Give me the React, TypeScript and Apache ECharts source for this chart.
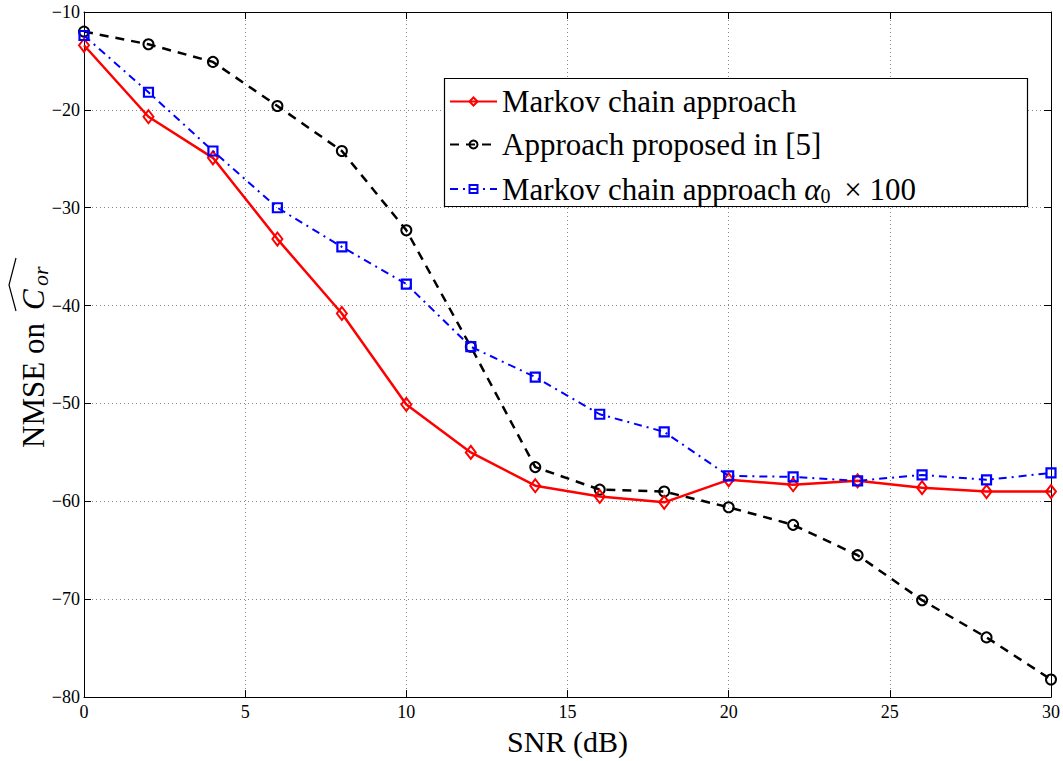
import React, { useEffect, useRef } from 'react';
import * as echarts from 'echarts';

const snr = [0, 2, 4, 6, 8, 10, 12, 14, 16, 18, 20, 22, 24, 26, 28, 30];
const markov = [-13.4, -20.7, -24.9, -33.2, -40.8, -50.1, -55.0, -58.4, -59.5, -60.1, -57.8, -58.3, -57.9, -58.6, -59.0, -59.0];
const proposed = [-12.0, -13.3, -15.1, -19.6, -24.2, -32.3, -44.2, -56.5, -58.8, -59.0, -60.6, -62.4, -65.5, -70.1, -73.9, -78.2];
const markovAlpha = [-12.4, -18.2, -24.2, -30.0, -34.0, -37.8, -44.2, -47.3, -51.1, -52.9, -57.4, -57.5, -57.9, -57.3, -57.8, -57.1];
const seriesNames = ['Markov chain approach', 'Approach proposed in [5]', 'Markov chain approach alpha0 x 100'];
const xAxisTitle = 'SNR (dB)';
const yTitleMain = 'NMSE on ';
const yTitleSym = 'C';
const yTitleSub = 'or';

const FONT = "'Liberation Serif', 'Times New Roman', serif";

export default function App() {
  const ref = useRef<HTMLDivElement>(null);
  useEffect(() => {
    if (!ref.current) return;
    const chart = echarts.init(ref.current, undefined, { renderer: 'svg' });
    const fmt = (v: number) => String(v).replace('-', '\u2212');
    const pairs = (arr: number[]) => arr.map((v, i) => [snr[i], v]);
    const hollow = 'rgba(255,255,255,0)';
    const baseX = {
      type: 'value', min: 0, max: 30, interval: 5,
      axisLine: { show: true, onZero: false, lineStyle: { color: '#000', width: 1 } },
      axisTick: { show: true, inside: true, length: 7, lineStyle: { color: '#000' } },
    };
    const baseY = {
      type: 'value', min: -80, max: -10, interval: 10,
      axisLine: { show: true, onZero: false, lineStyle: { color: '#000', width: 1 } },
      axisTick: { show: true, inside: true, length: 7, lineStyle: { color: '#000' } },
    };
    chart.setOption({
      animation: false,
      backgroundColor: '#fff',
      grid: { left: 84, right: 6, top: 12, bottom: 55, containLabel: false },
      xAxis: [
        {
          ...baseX, position: 'bottom',
          axisLabel: { formatter: fmt, fontFamily: FONT, fontSize: 18, color: '#000', margin: 6 },
          splitLine: { show: true, lineStyle: { color: '#888', type: [1, 3], width: 1 } },
          name: xAxisTitle, nameLocation: 'middle', nameGap: 28,
          nameTextStyle: { fontFamily: FONT, fontSize: 30, color: '#000' },
        },
        { ...baseX, position: 'top', axisLabel: { show: false }, splitLine: { show: false } },
      ],
      yAxis: [
        {
          ...baseY, position: 'left',
          axisLabel: { formatter: fmt, fontFamily: FONT, fontSize: 18, color: '#000', margin: 4 },
          splitLine: { show: true, lineStyle: { color: '#888', type: [1, 3], width: 1 } },
        },
        { ...baseY, position: 'right', axisLabel: { show: false }, splitLine: { show: false } },
      ],
      legend: {
        orient: 'vertical', left: 444, top: 78, z: 10,
        padding: [8, 8, 7, 5], itemGap: 12, itemWidth: 47, itemHeight: 10,
        data: seriesNames,
        formatter: (name: string) => name === seriesNames[2]
          ? 'Markov chain approach {i|\u03b1}{sub|0} \u2009\u00d7 100'
          : name,
        textStyle: {
          fontFamily: FONT, fontSize: 31, color: '#000', lineHeight: 30,
          rich: {
            i: { fontFamily: FONT, fontSize: 31, fontStyle: 'italic', color: '#000', lineHeight: 30 },
            sub: { fontFamily: FONT, fontSize: 20, color: '#000', lineHeight: 16, padding: [14, 0, 0, 0] },
          },
        },
      },
      graphic: [
        {
          type: 'rect', z: 9,
          shape: { x: 444.5, y: 78.5, width: 583, height: 128 },
          style: { fill: '#fff', stroke: '#000', lineWidth: 1.2 },
        },
        {
          type: 'group', x: 33, y: 448, rotation: Math.PI / 2,
          children: [
            { type: 'text', x: 0, y: 0, style: { text: yTitleMain, fontFamily: FONT, fontSize: 31, fill: '#000', align: 'left', verticalAlign: 'middle' } },
            { type: 'text', x: 138, y: 0, style: { text: yTitleSym, fontFamily: FONT, fontSize: 31, fontStyle: 'italic', fill: '#000', align: 'left', verticalAlign: 'middle' } },
            { type: 'text', x: 162, y: 7, style: { text: yTitleSub, fontFamily: FONT, fontSize: 22, fontStyle: 'italic', fill: '#000', align: 'left', verticalAlign: 'middle' } },
            { type: 'polyline', shape: { points: [[137, -17], [163, -24], [190, -17]] }, style: { stroke: '#000', lineWidth: 1.2, fill: 'none' } },
          ],
        },
      ],
      series: [
        {
          name: seriesNames[0], type: 'line', data: pairs(markov), z: 4,
          symbol: 'diamond', symbolSize: [10, 13],
          lineStyle: { color: '#ff0000', width: 2.5 },
          itemStyle: { color: hollow, borderColor: '#ff0000', borderWidth: 2 },
        },
        {
          name: seriesNames[1], type: 'line', data: pairs(proposed), z: 3,
          symbol: 'circle', symbolSize: 10,
          lineStyle: { color: '#000', width: 2.5, type: [9, 7] },
          itemStyle: { color: hollow, borderColor: '#000', borderWidth: 2 },
        },
        {
          name: seriesNames[2], type: 'line', data: pairs(markovAlpha), z: 5,
          symbol: 'rect', symbolSize: 9,
          lineStyle: { color: '#0000ff', width: 2, type: [8, 5, 2, 5] },
          itemStyle: { color: hollow, borderColor: '#0000ff', borderWidth: 2.2 },
        },
      ],
    });
    return () => chart.dispose();
  }, []);
  return <div ref={ref} style={{ width: 1063, height: 761, position: 'absolute', left: 0, top: 0 }} />;
}
